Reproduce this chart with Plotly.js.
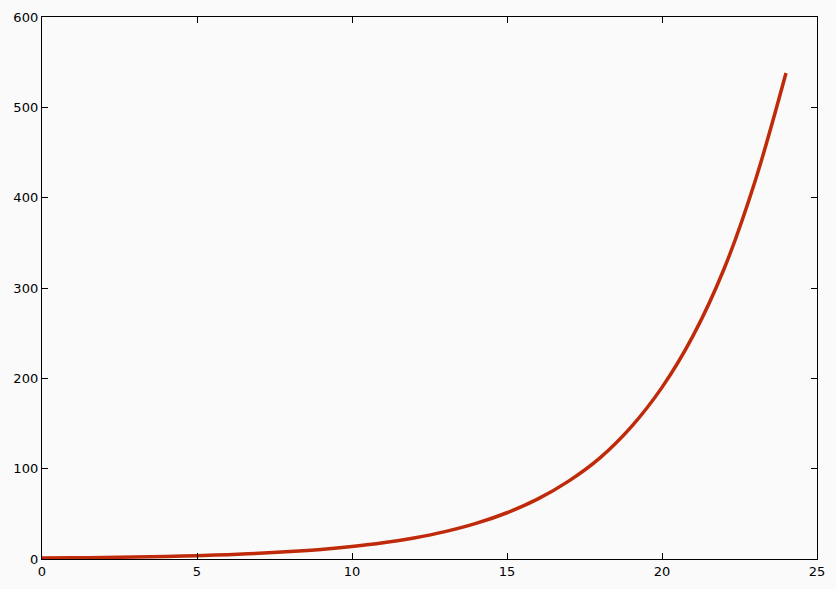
<!DOCTYPE html>
<html>
<head>
<meta charset="utf-8">
<script src="https://cdn.plot.ly/plotly-3.0.1.min.js"></script>
<style>
  html, body { margin: 0; padding: 0; background: #fafafa; }
  #chart { width: 836px; height: 589px; }
</style>
</head>
<body>
<div id="chart"></div>
<script>
// values, one per integer step
const xValues = [0, 1, 2, 3, 4, 5, 6, 7, 8, 9, 10, 11, 12, 13, 14, 15, 16, 17, 18, 19, 20, 21, 22, 23, 24];
const yValues = [1, 1.3, 1.7, 2.2, 2.9, 3.7, 4.8, 6.3, 8.2, 10.6, 13.8, 17.9, 23.3, 30.3, 39.4, 51.2, 66.5, 86.5, 112, 146, 190, 247, 321, 418, 538];
const xTicks = [0, 5, 10, 15, 20, 25];
const yTicks = [0, 100, 200, 300, 400, 500, 600];

const axisStyle = {
  showgrid: false,
  zeroline: false,
  showline: true,
  linecolor: '#000',
  linewidth: 1.2,
  mirror: 'allticks',
  ticks: 'inside',
  ticklen: 6,
  tickcolor: '#000',
  tickfont: { family: 'DejaVu Sans', size: 13, color: '#000' },
};

Plotly.newPlot('chart', [{
  x: xValues,
  y: yValues,
  mode: 'lines',
  type: 'scatter',
  line: { color: '#bf2a0a', width: 3.5, shape: 'spline' },
}], {
  width: 836,
  height: 589,
  margin: { l: 42, r: 19, t: 17, b: 30 },
  paper_bgcolor: '#fafafa',
  plot_bgcolor: '#fafafa',
  showlegend: false,
  xaxis: { ...axisStyle, range: [0, 25], tickvals: xTicks },
  yaxis: { ...axisStyle, range: [0, 600], tickvals: yTicks },
}, { staticPlot: true });
</script>
</body>
</html>
